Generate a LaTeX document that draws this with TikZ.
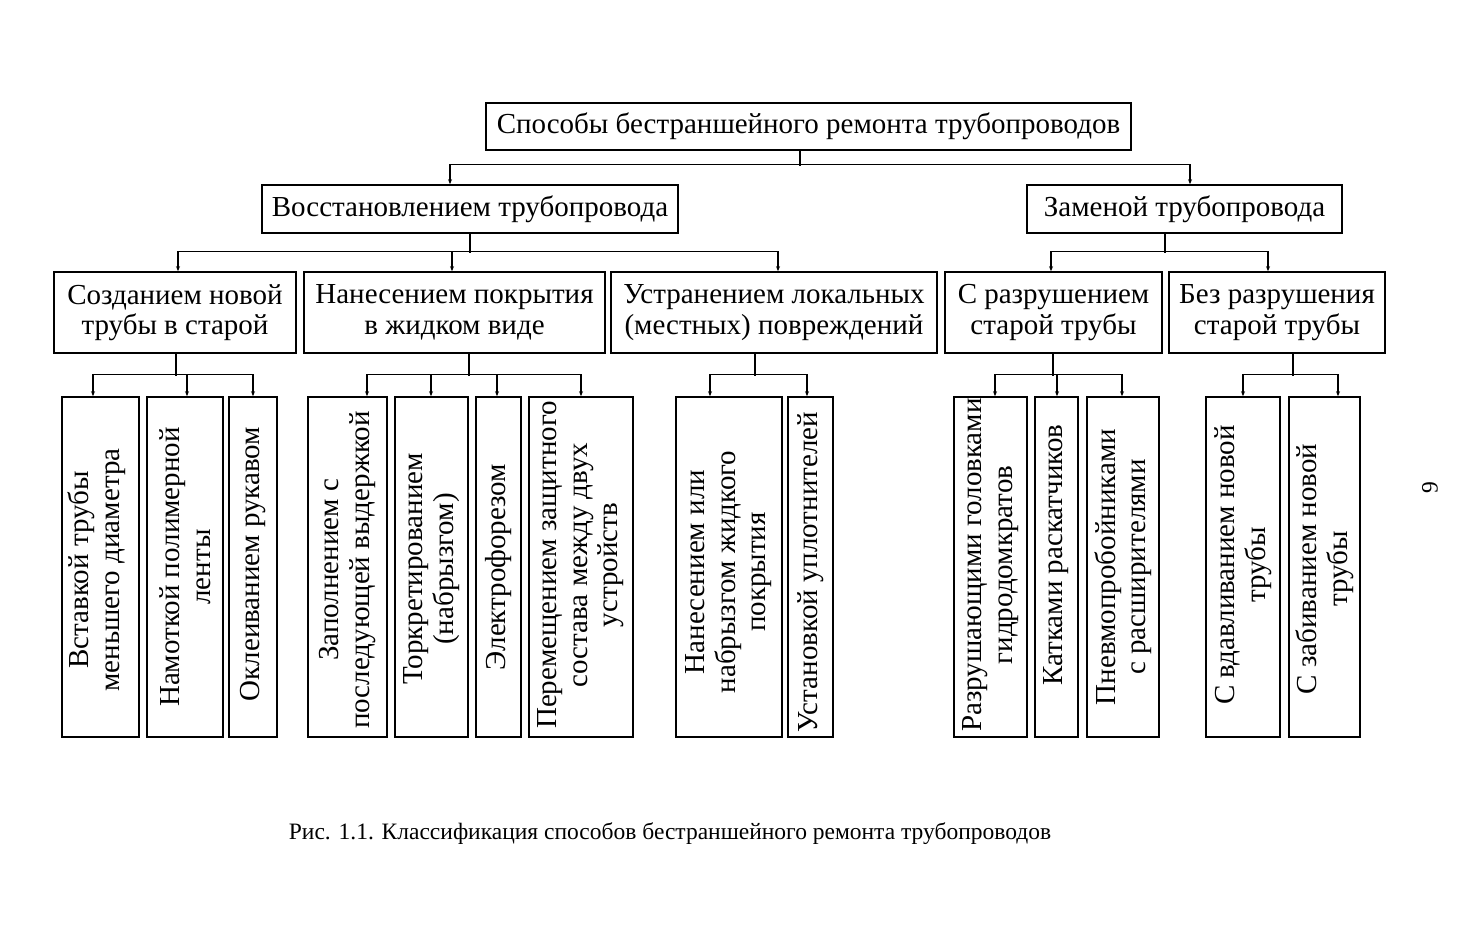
\documentclass[tikz,border=0pt]{standalone}
\usepackage{fontspec}
\setmainfont{Liberation Serif}
\usetikzlibrary{arrows.meta,calc}
\newcommand\mainsz{\fontsize{29}{30.5}\selectfont}
\newcommand\capsz{\fontsize{23.5}{26}\selectfont}
\newcommand\drop[3]{\draw[arr] ($(#1.north)+(#2,-#3)$) -- ($(#1.north)+(#2,0)$);}
\newcommand\stem[3]{\draw[conn] ($(#1.south)+(#2,0)$) -- ($(#1.south)+(#2,#3)$);}
\newcommand\bus[5]{\draw[conn] ($(#1.north)+(#2,-#5)$) -- ($(#3.north)+(#4,-#5)$);}
\tikzset{
  box/.style={draw, line width=1.6pt, inner sep=0pt, align=center, font=\mainsz},
  leafbox/.style={draw, line width=1.6pt, inner sep=0pt, minimum height=340pt},
  leaftext/.style={rotate=90, align=center, font=\mainsz, inner sep=0pt},
  conn/.style={line width=1.3pt},
  arr/.style={line width=1.3pt, -{Stealth[length=5pt,width=4pt]}}
}
\begin{document}
\begin{tikzpicture}[x=1pt,y=-1pt]
\useasboundingbox (0,0) rectangle (1478,939);
\fill[white] (0,0) rectangle (1478,939);
% level 0
\node[box, minimum width=645pt, minimum height=47pt] (T) at (808.5,126.5) {Способы бестраншейного ремонта трубопроводов};
% level 1
\node[box, minimum width=416pt, minimum height=48pt] (V) at (470,209) {Восстановлением трубопровода};
\node[box, minimum width=315pt, minimum height=48pt] (Z) at (1184.5,209) {Заменой трубопровода};
% level 2
\node[box, minimum width=242pt, minimum height=81pt] (S1) at (175,312.5) {Созданием новой\\трубы в старой};
\node[box, minimum width=301pt, minimum height=81pt] (S2) at (454.5,312.5) {Нанесением покрытия\\в жидком виде};
\node[box, minimum width=326pt, minimum height=81pt] (S3) at (774,312.5) {Устранением локальных\\(местных) повреждений};
\node[box, minimum width=217pt, minimum height=81pt] (S4) at (1053.5,312.5) {С разрушением\\старой трубы};
\node[box, minimum width=216pt, minimum height=81pt] (S5) at (1277,312.5) {Без разрушения\\старой трубы};
% level 3 boxes
\node[leafbox, minimum width=77pt] (L1) at (100.5,567) {};
\node[leafbox, minimum width=76pt] (L2) at (185,567) {};
\node[leafbox, minimum width=48pt] (L3) at (253,567) {};
\node[leafbox, minimum width=79pt] (L4) at (347.5,567) {};
\node[leafbox, minimum width=73pt] (L5) at (431.5,567) {};
\node[leafbox, minimum width=45pt] (L6) at (498.5,567) {};
\node[leafbox, minimum width=104pt] (L7) at (581,567) {};
\node[leafbox, minimum width=106pt] (L8) at (729,567) {};
\node[leafbox, minimum width=45pt] (L9) at (810.5,567) {};
\node[leafbox, minimum width=73pt] (L10) at (990.5,567) {};
\node[leafbox, minimum width=43pt] (L11) at (1056.5,567) {};
\node[leafbox, minimum width=72pt] (L12) at (1123,567) {};
\node[leafbox, minimum width=74pt] (L13) at (1243,567) {};
\node[leafbox, minimum width=71pt] (L14) at (1324.5,567) {};
% level 3 texts
\node[leaftext] (t1) at ($(L1.center)+(-4,3)$) {Вставкой трубы\\меньшего диаметра};
\node[leaftext] (t2) at ($(L2.center)+(0,0)$) {Намоткой полимерной\\ленты};
\node[leaftext] (t3) at ($(L3.center)+(0,-3)$) {Оклеиванием рукавом};
\node[leaftext] (t4) at ($(L4.center)+(0,3)$) {Заполнением с\\последующей выдержкой};
\node[leaftext] (t5) at ($(L5.center)+(0,2)$) {Торкретированием\\(набрызгом)};
\node[leaftext] (t6) at ($(L6.center)+(0,0)$) {Электрофорезом};
\node[leaftext] (t7) at ($(L7.center)+(0,-2)$) {Перемещением защитного\\состава между двух\\устройств};
\node[leaftext] (t8) at ($(L8.center)+(0,5)$) {Нанесением или\\набрызгом жидкого\\покрытия};
\node[leaftext] (t9) at ($(L9.center)+(0,5)$) {Установкой уплотнителей};
\node[leaftext] (t10) at ($(L10.center)+(0,-2)$) {Разрушающими головками\\гидродомкратов};
\node[leaftext] (t11) at ($(L11.center)+(0,-12)$) {Катками раскатчиков};
\node[leaftext] (t12) at ($(L12.center)+(0,0)$) {Пневмопробойниками\\с расширителями};
\node[leaftext] (t13) at ($(L13.center)+(0,-2)$) {С вдавливанием новой\\трубы};
\node[leaftext] (t14) at ($(L14.center)+(0,2)$) {С забиванием новой\\трубы};
% connectors level 0 -> 1
\stem{T}{-8.5}{15}
\bus{V}{-20}{Z}{5.5}{20}
\drop{V}{-20}{20}
\drop{Z}{5.5}{20}
% level 1 -> 2
\stem{V}{0}{19}
\bus{S1}{3}{S3}{4}{20}
\drop{S1}{3}{20}
\drop{S2}{-2.5}{20}
\drop{S3}{4}{20}
\stem{Z}{-19.5}{19}
\bus{S4}{-2.5}{S5}{-9}{20}
\drop{S4}{-2.5}{20}
\drop{S5}{-9}{20}
% level 2 -> 3
\stem{S1}{1}{22}
\bus{L1}{-7.5}{L3}{0}{22}
\drop{L1}{-7.5}{22}
\drop{L2}{2}{22}
\drop{L3}{0}{22}
\stem{S2}{14.5}{22}
\bus{L4}{19.5}{L7}{0}{22}
\drop{L4}{19.5}{22}
\drop{L5}{-0.5}{22}
\drop{L6}{-1.5}{22}
\drop{L7}{0}{22}
\stem{S3}{-19}{22}
\bus{L8}{-19}{L9}{-3.5}{22}
\drop{L8}{-19}{22}
\drop{L9}{-3.5}{22}
\stem{S4}{-0.5}{22}
\bus{L10}{4.5}{L12}{-1}{22}
\drop{L10}{4.5}{22}
\drop{L11}{0.5}{22}
\drop{L12}{-1}{22}
\stem{S5}{16}{22}
\bus{L13}{0}{L14}{13.5}{22}
\drop{L13}{0}{22}
\drop{L14}{13.5}{22}
% caption and page number
\node[font=\capsz, inner sep=0pt] (cap) at (670,834) {Рис. 1.1. Классификация способов бестраншейного ремонта трубопроводов};
\node[font=\capsz, rotate=90, inner sep=0pt] (pg) at (1430,488) {9};
\end{tikzpicture}
\end{document}
